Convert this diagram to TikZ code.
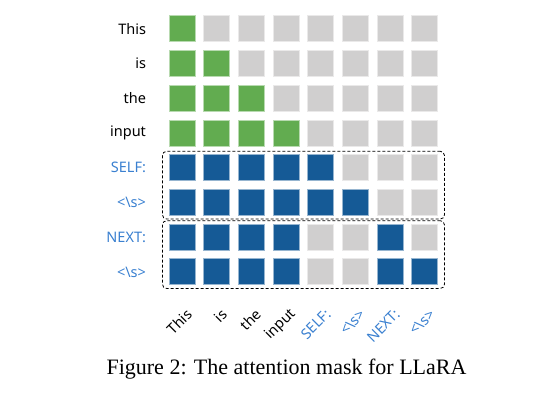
\documentclass[tikz,border=0pt]{standalone}
\usepackage{fontspec}
\setmainfont{Liberation Serif}
\newfontfamily\tokfont{Noto Sans}
\usetikzlibrary{positioning, fit}

\definecolor{maskgreen}{HTML}{62AC50}
\definecolor{maskblue}{HTML}{155A96}
\definecolor{maskgray}{HTML}{D0CFCF}
\definecolor{tokblue}{HTML}{3A80D0}

\tikzset{
    cell/.style={minimum size=26pt, inner sep=0pt, line width=1pt},
    rowlabel/.style={font=\tokfont\fontsize{14.5}{17}\selectfont},
    collabel/.style={rowlabel, anchor=east, rotate=45},
    groupbox/.style={draw, dashed, dash pattern=on 3pt off 2pt, line width=0.8pt,
        rounded corners=4pt, inner xsep=6pt, inner ysep=3pt}
}

\begin{document}
\begin{tikzpicture}[x=1pt, y=1pt]

    \useasboundingbox (0,0) rectangle (556,405);

    % ============================================================
    % MASK CELLS
    % ============================================================
    \foreach \cells [count=\j from 0] in {
        {maskgreen,maskgray,maskgray,maskgray,maskgray,maskgray,maskgray,maskgray},
        {maskgreen,maskgreen,maskgray,maskgray,maskgray,maskgray,maskgray,maskgray},
        {maskgreen,maskgreen,maskgreen,maskgray,maskgray,maskgray,maskgray,maskgray},
        {maskgreen,maskgreen,maskgreen,maskgreen,maskgray,maskgray,maskgray,maskgray},
        {maskblue,maskblue,maskblue,maskblue,maskblue,maskgray,maskgray,maskgray},
        {maskblue,maskblue,maskblue,maskblue,maskblue,maskblue,maskgray,maskgray},
        {maskblue,maskblue,maskblue,maskblue,maskgray,maskgray,maskblue,maskgray},
        {maskblue,maskblue,maskblue,maskblue,maskgray,maskgray,maskblue,maskblue}}{
        \foreach \c [count=\i from 0] in \cells {
            \node[cell, fill=\c, draw=\c!45!white] (c\j\i)
                at ({182+34.7*\i},{376-34.7*\j}) {};
        }
    }

    % ============================================================
    % ROW TOKENS
    % ============================================================
    \foreach \t/\col [count=\j from 0] in {This/black, is/black, the/black,
        input/black, SELF:/tokblue, <\textbackslash s>/tokblue,
        NEXT:/tokblue, <\textbackslash s>/tokblue}{
        \node[rowlabel, text=\col, left=19pt of c\j0] (row\j) {\t};
    }

    % ============================================================
    % COLUMN TOKENS
    % ============================================================
    \foreach \t/\col [count=\i from 0] in {This/black, is/black, the/black,
        input/black, SELF:/tokblue, <\textbackslash s>/tokblue,
        NEXT:/tokblue, <\textbackslash s>/tokblue}{
        \node[collabel, text=\col] (col\i) at ([shift={(10,-24)}]c7\i.south) {\t};
    }

    % ============================================================
    % GROUP BOXES
    % ============================================================
    \node[groupbox, fit=(c40)(c57)] (selfbox) {};
    \node[groupbox, fit=(c60)(c77)] (nextbox) {};

    % ============================================================
    % CAPTION
    % ============================================================
    \node[anchor=base, font=\fontsize{22}{26}\selectfont] (caption) at (286.5,31)
        {Figure 2: The attention mask for LLaRA};

\end{tikzpicture}
\end{document}
